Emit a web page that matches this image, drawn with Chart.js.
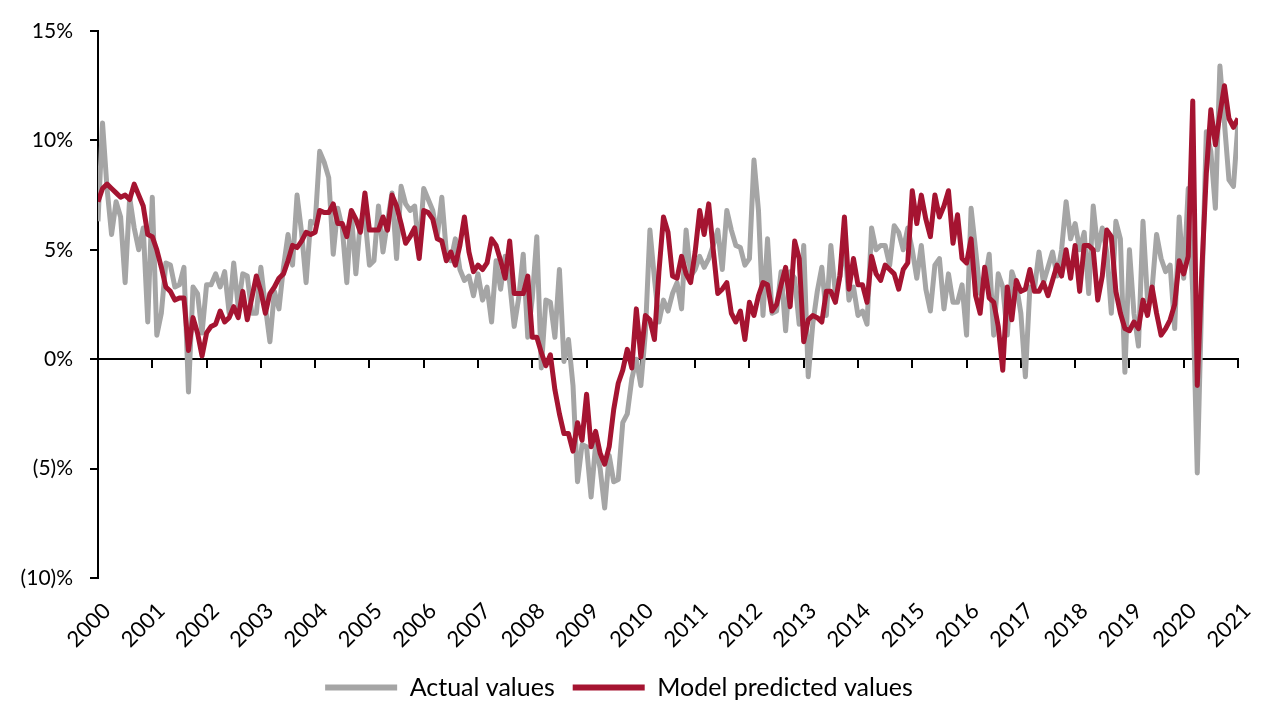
<!DOCTYPE html>
<html>
<head>
<meta charset="utf-8">
<script src="https://cdn.jsdelivr.net/npm/chart.js@4.4.1/dist/chart.umd.min.js"></script>
<style>
  html, body { margin: 0; padding: 0; background: #fff; }
  #wrap { width: 1262px; height: 710px; }
</style>
</head>
<body>
<div id="wrap"><canvas id="chart" width="1262" height="710"></canvas></div>
<script>
// Monthly growth, Jan 2000 .. Jan 2021 (values in %)
const startYear = 2000;

const xTickLabels = ["2000", "2001", "2002", "2003", "2004", "2005", "2006",
  "2007", "2008", "2009", "2010", "2011", "2012", "2013", "2014", "2015",
  "2016", "2017", "2018", "2019", "2020", "2021"];

const yTicks = [-10, -5, 0, 5, 10, 15];
const yTickLabels = ["(10)%", "(5)%", "0%", "5%", "10%", "15%"];

const actualValues = [
  6.3, 10.8, 7.8, 5.7, 7.2, 6.5, 3.5, 7.4, 6.0, 5.0, 6.0, 1.7,
  7.4, 1.1, 2.1, 4.4, 4.3, 3.3, 3.4, 4.2, -1.5, 3.3, 3.0, 1.2,
  3.4, 3.4, 3.9, 3.3, 4.0, 2.1, 4.4, 2.4, 3.9, 3.8, 2.1, 2.1,
  4.2, 2.4, 0.8, 3.1, 2.3, 4.2, 5.7, 4.3, 7.5, 5.8, 3.5, 6.3,
  6.2, 9.5, 9.0, 8.3, 4.8, 6.9, 6.0, 3.5, 6.7, 3.9, 6.3, 6.5,
  4.3, 4.5, 7.0, 4.9, 6.3, 7.6, 4.6, 7.9, 7.1, 6.8, 7.0, 4.9,
  7.8, 7.3, 6.8, 5.6, 7.4, 4.9, 4.5, 5.5, 4.1, 3.6, 3.8, 2.9,
  3.9, 2.7, 3.3, 1.7, 4.5, 3.2, 4.7, 3.5, 1.5, 2.8, 4.8, 1.0,
  2.8, 5.6, -0.4, 2.7, 2.6, 1.0, 4.1, -0.1, 0.9, -1.2, -5.6, -3.9,
  -4.0, -6.3, -3.9, -5.0, -6.8, -4.4, -5.6, -5.5, -2.9, -2.5, -0.9, 0.0,
  -1.2, 1.2, 5.9, 3.7, 1.7, 2.7, 2.2, 3.0, 3.5, 2.3, 5.9, 3.8,
  4.1, 4.7, 4.2, 4.6, 5.2, 5.9, 4.1, 6.8, 5.9, 5.2, 5.1, 4.3,
  4.6, 9.1, 6.8, 2.0, 5.5, 2.1, 2.2, 4.0, 1.3, 4.0, 3.7, 1.6,
  5.2, -0.8, 1.6, 3.1, 4.2, 2.0, 5.2, 3.0, 3.8, 5.4, 2.7, 3.3,
  2.0, 2.2, 1.6, 6.0, 5.0, 5.2, 5.2, 4.3, 6.1, 5.8, 5.0, 6.0,
  5.0, 3.7, 5.2, 3.2, 2.2, 4.3, 4.6, 2.3, 3.9, 2.6, 2.6, 3.4,
  1.1, 6.9, 5.0, 3.0, 3.5, 4.8, 1.1, 3.9, 3.3, 1.1, 4.0, 3.4,
  2.1, -0.8, 3.3, 3.2, 4.9, 3.5, 4.2, 4.9, 3.8, 5.0, 7.2, 5.5,
  6.2, 5.0, 5.8, 3.0, 7.0, 5.0, 6.0, 4.9, 2.1, 6.3, 5.5, -0.6,
  5.0, 2.1, 0.6, 6.3, 2.7, 3.2, 5.7, 4.6, 4.0, 4.3, 1.4, 6.5,
  3.7, 7.8, 3.0, -5.2, 3.0, 10.4, 9.5, 6.9, 13.4, 10.8, 8.2, 7.9,
  10.8
];

const modelValues = [
  7.2, 7.8, 8.0, 7.8, 7.6, 7.4, 7.5, 7.3, 8.0, 7.5, 7.0, 5.7,
  5.6, 5.0, 4.2, 3.3, 3.1, 2.7, 2.8, 2.8, 0.4, 1.9, 1.2, 0.15,
  1.2, 1.5, 1.6, 2.2, 1.7, 1.9, 2.4, 1.9, 3.1, 1.8, 2.8, 3.8,
  3.1, 2.1, 3.0, 3.3, 3.7, 3.9, 4.5, 5.2, 5.1, 5.4, 5.8, 5.7,
  5.8, 6.8, 6.7, 6.7, 7.1, 6.2, 6.2, 5.6, 6.8, 6.4, 5.8, 7.6,
  5.9, 5.9, 5.9, 6.5, 5.9, 7.5, 7.0, 6.2, 5.3, 5.6, 6.0, 4.6,
  6.8, 6.7, 6.4, 5.5, 5.4, 4.5, 4.9, 4.3, 5.2, 6.5, 4.9, 4.0,
  4.3, 4.1, 4.4, 5.5, 5.2, 4.5, 3.7, 5.4, 3.0, 3.0, 3.0, 3.8,
  1.0, 1.0, 0.3, -0.3, 0.2, -1.4, -2.5, -3.4, -3.4, -4.2, -2.9, -3.7,
  -1.6, -4.0, -3.3, -4.3, -4.8, -4.0, -2.3, -1.1, -0.5, 0.45, -0.4, 2.3,
  0.1, 2.0, 1.8, 0.9, 4.0, 6.5, 5.8, 3.8, 3.7, 4.7, 3.9, 3.5,
  4.9, 6.8, 5.7, 7.1, 5.0, 3.0, 3.2, 3.5, 2.1, 1.7, 2.2, 0.9,
  2.6, 2.0, 2.9, 3.5, 3.4, 2.2, 2.5, 3.4, 4.2, 2.4, 5.4, 4.6,
  0.8, 1.8, 2.0, 1.9, 1.7, 3.1, 3.1, 2.6, 3.8, 6.5, 3.2, 4.6,
  3.4, 3.4, 2.6, 4.7, 3.9, 3.6, 4.3, 4.1, 3.9, 3.2, 4.1, 4.4,
  7.7, 6.2, 7.5, 6.4, 5.6, 7.5, 6.5, 7.0, 7.7, 5.3, 6.6, 4.6,
  4.4, 5.5, 2.9, 2.1, 4.2, 2.8, 2.6, 1.5, -0.5, 3.3, 1.8, 3.6,
  3.1, 3.2, 4.1, 3.1, 3.1, 3.5, 2.9, 3.6, 4.3, 3.8, 5.0, 3.7,
  5.2, 3.1, 5.2, 5.2, 5.0, 2.7, 3.8, 5.9, 5.6, 3.1, 2.1, 1.4,
  1.3, 1.7, 1.4, 2.7, 2.0, 3.3, 2.1, 1.1, 1.4, 1.8, 2.5, 4.5,
  3.9, 4.7, 11.8, -1.2, 4.0, 8.5, 11.4, 9.8, 11.2, 12.5, 11.0, 10.6,
  11.0
];

const GRAY = "#a5a5a5";
const RED = "#a51431";
const FONT = "Lato";

// month index -> position on the year axis
function toPoints(values) {
  return values.map((v, i) => ({ x: startYear + i / 12, y: v }));
}

const xMin = startYear;
const xMax = startYear + xTickLabels.length - 1;

new Chart(document.getElementById("chart").getContext("2d"), {
  type: "line",
  data: {
    datasets: [
      {
        label: "Actual values",
        data: toPoints(actualValues),
        borderColor: GRAY,
        backgroundColor: GRAY,
        borderWidth: 5,
        pointRadius: 0,
        tension: 0,
        borderJoinStyle: "round",
        order: 2,
        xAxisID: "x",
        yAxisID: "y",
      },
      {
        label: "Model predicted values",
        data: toPoints(modelValues),
        borderColor: RED,
        backgroundColor: RED,
        borderWidth: 5,
        pointRadius: 0,
        tension: 0,
        borderJoinStyle: "round",
        order: 1,
        xAxisID: "x",
        yAxisID: "y",
      },
    ],
  },
  options: {
    responsive: false,
    animation: false,
    devicePixelRatio: 1,
    layout: {
      padding: { top: 31, right: 24, left: 0, bottom: 0 },
    },
    plugins: {
      tooltip: { enabled: false },
      legend: {
        display: true,
        position: "bottom",
        labels: {
          boxWidth: 72,
          boxHeight: 6,
          padding: 18,
          color: "#000",
          font: { family: FONT, size: 25 },
          sort: (a, b) => a.datasetIndex - b.datasetIndex,
          generateLabels: function (chart) {
            const items = Chart.defaults.plugins.legend.labels.generateLabels(chart);
            items.forEach((item) => {
              item.lineWidth = 0;
            });
            return items;
          },
        },
      },
    },
    scales: {
      x: {
        type: "linear",
        position: "bottom",
        min: xMin,
        max: xMax,
        grid: { display: false },
        border: { display: false },
        ticks: {
          stepSize: 1,
          autoSkip: false,
          maxRotation: 45,
          minRotation: 45,
          padding: 12,
          labelOffset: 9,
          color: "#000",
          font: { family: FONT, size: 22 },
          callback: function (value) {
            return xTickLabels[Math.round(value) - startYear];
          },
        },
        afterFit: function (scale) {
          scale.height = 79;
          scale.paddingLeft = 0;
          scale.paddingRight = 0;
        },
      },
      xZero: {
        type: "linear",
        axis: "x",
        position: { y: 0 },
        min: xMin,
        max: xMax,
        grid: {
          drawOnChartArea: false,
          drawTicks: true,
          tickLength: 8,
          color: "#000",
          lineWidth: 2,
        },
        border: { display: true, color: "#000", width: 2 },
        ticks: { display: false, stepSize: 1, autoSkip: false },
      },
      y: {
        type: "linear",
        position: "left",
        min: yTicks[0],
        max: yTicks[yTicks.length - 1],
        grid: {
          drawOnChartArea: false,
          drawTicks: true,
          tickLength: 8,
          color: "#000",
          lineWidth: 2,
        },
        border: { display: true, color: "#000", width: 2 },
        ticks: {
          stepSize: 5,
          padding: 17,
          color: "#000",
          font: { family: FONT, size: 21 },
          callback: function (value) {
            const idx = yTicks.indexOf(value);
            return idx >= 0 ? yTickLabels[idx] : "";
          },
        },
        afterFit: function (scale) {
          scale.width = 98;
        },
      },
    },
  },
});
</script>
</body>
</html>
